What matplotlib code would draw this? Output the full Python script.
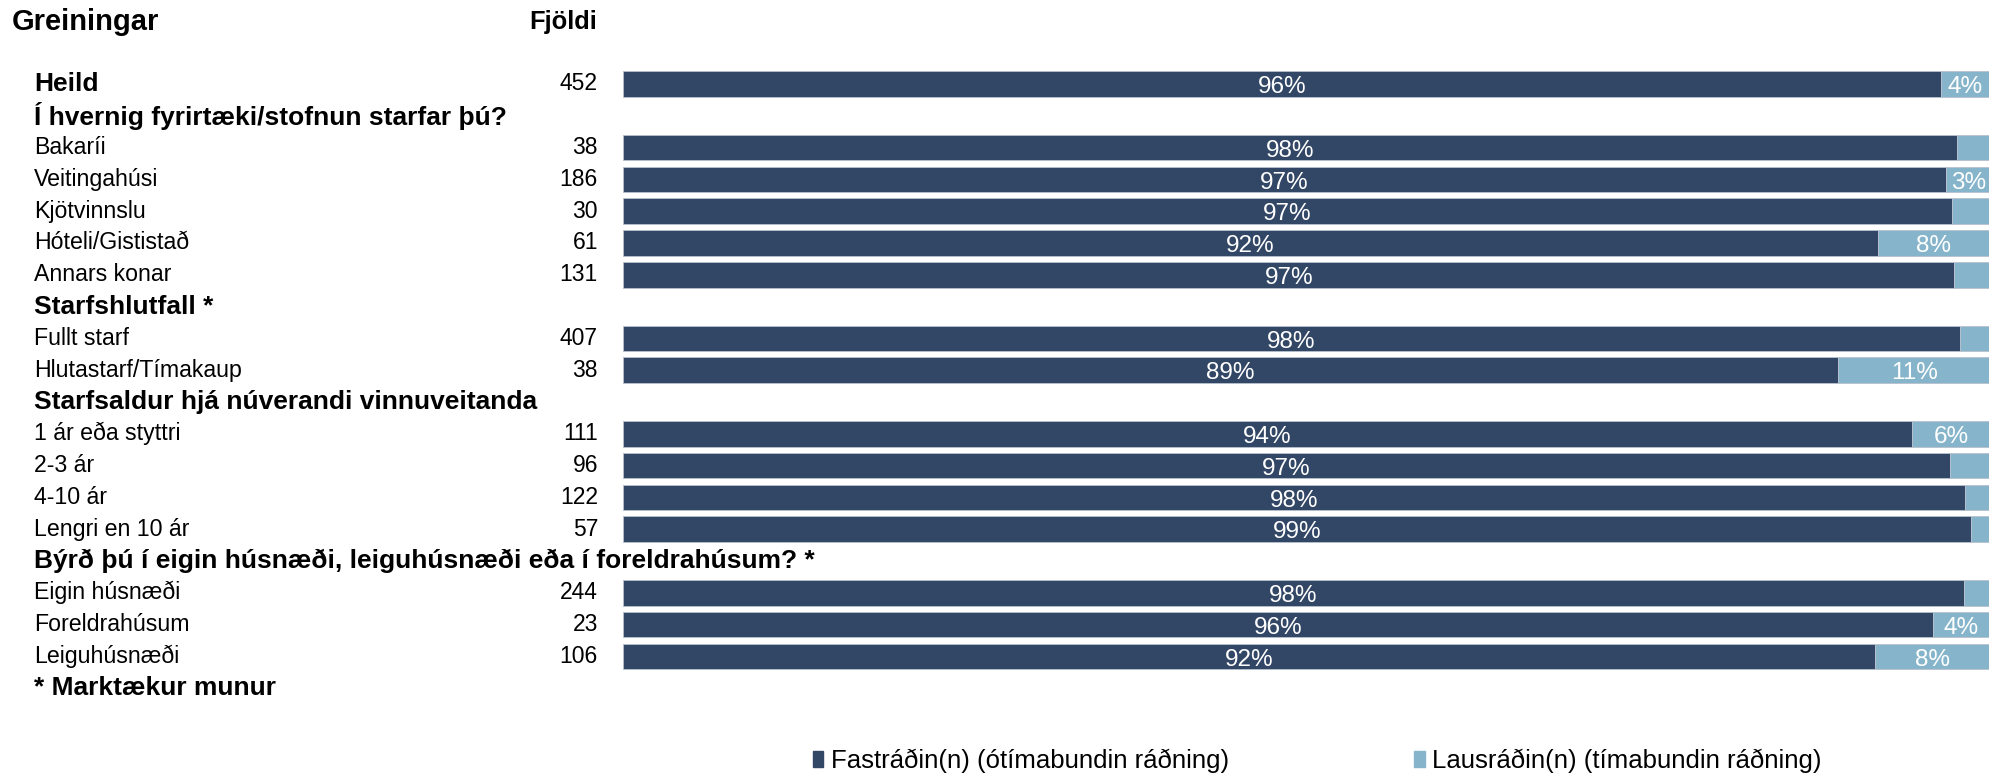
import matplotlib.pyplot as plt
import matplotlib.transforms as mtransforms
from matplotlib.patches import Patch

# ---- data ----
labels = ["Heild",
          "Í hvernig fyrirtæki/stofnun starfar þú?",
          "Bakaríi", "Veitingahúsi", "Kjötvinnslu", "Hóteli/Gististað", "Annars konar",
          "Starfshlutfall *",
          "Fullt starf", "Hlutastarf/Tímakaup",
          "Starfsaldur hjá núverandi vinnuveitanda",
          "1 ár eða styttri", "2-3 ár", "4-10 ár", "Lengri en 10 ár",
          "Býrð þú í eigin húsnæði, leiguhúsnæði eða í foreldrahúsum? *",
          "Eigin húsnæði", "Foreldrahúsum", "Leiguhúsnæði",
          "* Marktækur munur"]
is_bold = [True, True, False, False, False, False, False, True, False, False, True,
           False, False, False, False, True, False, False, False, True]
counts = [452, None, 38, 186, 30, 61, 131, None, 407, 38, None,
          111, 96, 122, 57, None, 244, 23, 106, None]
fastradin = [96.4, None, 97.6, 96.8, 97.2, 91.8, 97.4, None, 97.8, 88.9, None,
             94.3, 97.1, 98.2, 98.6, None, 98.1, 95.8, 91.6, None]
lausradin = [3.6, None, 2.4, 3.2, 2.8, 8.2, 2.6, None, 2.2, 11.1, None,
             5.7, 2.9, 1.8, 1.4, None, 1.9, 4.2, 8.4, None]
series_names = ["Fastráðin(n) (ótímabundin ráðning)", "Lausráðin(n) (tímabundin ráðning)"]
colors = ["#324665", "#86b5cb"]

fam = ["Liberation Sans", "DejaVu Sans"]

fig = plt.figure(figsize=(19.9, 7.76), dpi=100)
ax = fig.add_axes([623 / 1990, 0, 1 - 623 / 1990, 1])
ax.set_xlim(0, 100)
ax.set_ylim(21.76, -2.64)
ax.axis("off")

trans = mtransforms.blended_transform_factory(fig.transFigure, ax.transData)

for i, lab in enumerate(labels):
    if is_bold[i]:
        ax.text(34 / 1990, i, lab, transform=trans, ha="left", va="center",
                fontsize=19, family=fam, fontweight="bold")
    else:
        ax.text(34 / 1990, i, lab, transform=trans, ha="left", va="center",
                fontsize=16.7, family=fam)
    if counts[i] is not None:
        ax.text(598 / 1990, i, str(counts[i]), transform=trans, ha="right", va="center",
                fontsize=16.5, family=fam)
    if fastradin[i] is None:
        continue
    ax.barh(i, fastradin[i], height=0.8, color=colors[0], edgecolor="#b8c1cd", linewidth=0.6)
    ax.barh(i, lausradin[i], left=fastradin[i], height=0.8, color=colors[1],
            edgecolor="#b8c1cd", linewidth=0.6)
    ax.text(fastradin[i] / 2, i + 0.1, f"{round(fastradin[i])}%", ha="center", va="center",
            color="white", fontsize=17.5, family=fam)
    if lausradin[i] >= 3:
        ax.text(fastradin[i] + lausradin[i] / 2, i + 0.1, f"{round(lausradin[i])}%",
                ha="center", va="center", color="white", fontsize=17.5, family=fam)

ax.text(12 / 1990, -1.95, "Greiningar", transform=trans, ha="left", va="center",
        fontsize=21, fontweight="bold", family=fam)
ax.text(597 / 1990, -1.95, "Fjöldi", transform=trans, ha="right", va="center",
        fontsize=18.4, fontweight="bold", family=fam)

handles = [Patch(color=c) for c in colors]
fig.legend(handles, series_names, loc="center left", bbox_to_anchor=(790 / 1990, 1 - 761 / 776),
           ncol=2, frameon=False, handlelength=0.4, handleheight=0.6, handletextpad=0.3,
           columnspacing=7.2, prop={"family": fam, "size": 18.5})

fig.savefig("out.png", dpi=100)
